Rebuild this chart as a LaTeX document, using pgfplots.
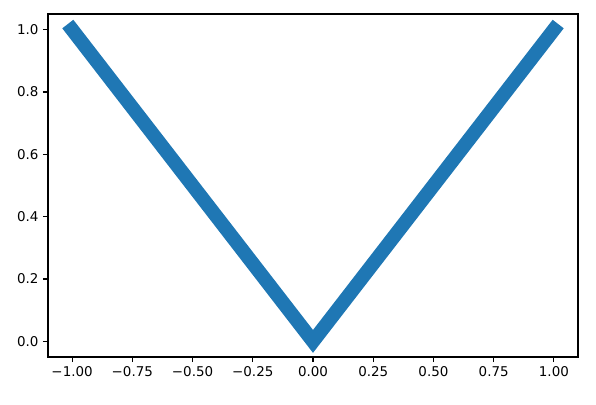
\documentclass[border=0pt]{standalone}
\usepackage{fontspec}
\setmainfont{DejaVu Sans}
\usepackage{pgfplots}
\pgfplotsset{compat=1.18}
\definecolor{mplblue}{HTML}{1F77B4}
\begin{document}
\begin{tikzpicture}
\path[use as bounding box] (-48bp,-48bp) rectangle (548bp,357bp);
\begin{axis}[
  at={(0,0)}, anchor=south west,
  scale only axis,
  width=530bp, height=343bp,
  xmin=-1.1, xmax=1.1, ymin=-0.05, ymax=1.05,
  xtick={-1,-0.75,-0.5,-0.25,0,0.25,0.5,0.75,1},
  xticklabels={−1.00,−0.75,−0.50,−0.25,0.00,0.25,0.50,0.75,1.00},
  ytick={0,0.2,0.4,0.6,0.8,1.0},
  yticklabels={0.0,0.2,0.4,0.6,0.8,1.0},
  tick align=outside,
  tick pos=left,
  major tick length=5bp,
  tick style={black, line width=1.1bp},
  axis line style={black, line width=1.1bp},
  ticklabel style={font=\fontsize{13.5}{16}\selectfont, text=black},
  xticklabel style={yshift=-1bp},
  yticklabel style={xshift=-1bp},
  clip=false,
]
\addplot[mplblue, line width=14bp, line cap=rect, line join=miter] coordinates {(-1,1) (0,0) (1,1)};
\end{axis}
\end{tikzpicture}
\end{document}
